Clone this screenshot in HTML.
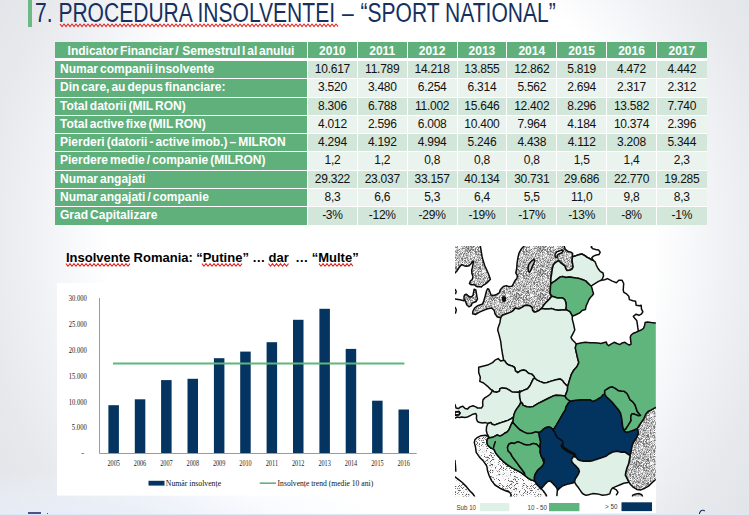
<!DOCTYPE html>
<html><head><meta charset="utf-8">
<style>
html,body{margin:0;padding:0;}
body{width:749px;height:515px;overflow:hidden;position:relative;font-family:"Liberation Sans",sans-serif;
background:
radial-gradient(ellipse 320px 45px at 60px 515px,rgba(232,239,251,.75) 0,rgba(236,242,251,.45) 55%,rgba(255,255,255,0) 100%),
radial-gradient(ellipse 100px 108px at 380px 240px,#fff 0,#fff 272%,#f7f8fa 310%,#eff1f4 345%,#e7e9ed 395%,#e1e4e8 450%,#dfe2e6 480%);}
#gbar{position:absolute;left:28px;top:0;width:4px;height:27px;background:#6db887;}
#title{position:absolute;left:35.2px;top:-2.5px;font-size:26.8px;line-height:30px;color:#17305e;white-space:nowrap;transform-origin:0 0;transform:scaleX(.785);}
.sq{}
table{position:absolute;left:55px;top:42px;border-collapse:separate;border-spacing:0;table-layout:fixed;width:651.3px;}
td{height:18.3px;box-sizing:border-box;padding:0;border-right:1.3px solid #fff;border-bottom:1.5px solid #fff;font-size:12px;line-height:14px;vertical-align:top;padding-top:1px;letter-spacing:-0.25px;text-align:center;color:#111;white-space:nowrap;overflow:hidden;}
td:last-child{border-right:none}
tr:last-child td{border-bottom:none;height:17.6px}
td.l{background:#60b07c;color:#fff;font-weight:bold;text-align:left;padding-left:5px;word-spacing:-1.3px;letter-spacing:0}
tr.h td{background:#60b07c;color:#fff;font-weight:bold;height:19px;border-bottom:3px solid #fff;font-size:12px;padding-top:2px;letter-spacing:0}
tr.h td.l{text-align:center;padding-left:0;word-spacing:-1.5px}
tr.o td{background:#d3e6da}
tr.e td{background:#eaf3ed}
tr.o td.l,tr.e td.l{background:#60b07c}
#ct{position:absolute;left:66px;top:250px;word-spacing:-0.3px;font-size:13px;font-weight:bold;color:#000;white-space:nowrap;line-height:15px}
#chart{position:absolute;left:57px;top:283px;}
#map{position:absolute;left:455px;top:246px;}
</style></head><body>
<div id="gbar"></div>
<div id="title">7. <span class="sq">PROCEDURA INSOLVENTEI</span><span style="word-spacing:1.3px"> – </span>“SPORT NATIONAL”</div>
<table>
<colgroup><col style="width:253px"><col span="8" style="width:49.85px"></colgroup>
<tr class="h"><td class="l">Indicator Financiar / &nbsp;Semestrul I al anului</td><td>2010</td><td>2011</td><td>2012</td><td>2013</td><td>2014</td><td>2015</td><td>2016</td><td>2017</td></tr>
<tr class="o"><td class="l">Numar companii insolvente</td><td>10.617</td><td>11.789</td><td>14.218</td><td>13.855</td><td>12.862</td><td>5.819</td><td>4.472</td><td>4.442</td></tr>
<tr class="e"><td class="l">Din care, au depus financiare:</td><td>3.520</td><td>3.480</td><td>6.254</td><td>6.314</td><td>5.562</td><td>2.694</td><td>2.317</td><td>2.312</td></tr>
<tr class="o"><td class="l">Total datorii (MIL RON)</td><td>8.306</td><td>6.788</td><td>11.002</td><td>15.646</td><td>12.402</td><td>8.296</td><td>13.582</td><td>7.740</td></tr>
<tr class="e"><td class="l">Total active fixe (MIL RON)</td><td>4.012</td><td>2.596</td><td>6.008</td><td>10.400</td><td>7.964</td><td>4.184</td><td>10.374</td><td>2.396</td></tr>
<tr class="o"><td class="l">Pierderi (datorii - active imob.) – MILRON</td><td>4.294</td><td>4.192</td><td>4.994</td><td>5.246</td><td>4.438</td><td>4.112</td><td>3.208</td><td>5.344</td></tr>
<tr class="e"><td class="l">Pierdere medie / companie (MILRON)</td><td>1,2</td><td>1,2</td><td>0,8</td><td>0,8</td><td>0,8</td><td>1,5</td><td>1,4</td><td>2,3</td></tr>
<tr class="o"><td class="l">Numar angajati</td><td>29.322</td><td>23.037</td><td>33.157</td><td>40.134</td><td>30.731</td><td>29.686</td><td>22.770</td><td>19.285</td></tr>
<tr class="e"><td class="l">Numar angajati / companie</td><td>8,3</td><td>6,6</td><td>5,3</td><td>6,4</td><td>5,5</td><td>11,0</td><td>9,8</td><td>8,3</td></tr>
<tr class="o"><td class="l">Grad Capitalizare</td><td>-3%</td><td>-12%</td><td>-29%</td><td>-19%</td><td>-17%</td><td>-13%</td><td>-8%</td><td>-1%</td></tr>
</table>
<div id="ct"><span class="sq">Insolvente</span> Romania: “<span class="sq">Putine</span>” … <span class="sq">dar</span> &nbsp;… “<span class="sq">Multe</span>”</div>
<svg id="sqg" width="749" height="515" style="position:absolute;left:0;top:0;pointer-events:none"><g fill="none" stroke="#e3241f" stroke-width="1.05"><path d="M60.0 24.0L62.0 26.6L64.0 24.0L66.0 26.6L68.0 24.0L70.0 26.6L72.0 24.0L74.0 26.6L76.0 24.0L78.0 26.6L80.0 24.0L82.0 26.6L84.0 24.0L86.0 26.6L88.0 24.0L90.0 26.6L92.0 24.0L94.0 26.6L96.0 24.0L98.0 26.6L100.0 24.0L102.0 26.6L104.0 24.0L106.0 26.6L108.0 24.0L110.0 26.6L112.0 24.0L114.0 26.6L116.0 24.0L118.0 26.6L120.0 24.0L122.0 26.6L124.0 24.0L126.0 26.6L128.0 24.0L130.0 26.6L132.0 24.0L134.0 26.6L136.0 24.0L138.0 26.6L140.0 24.0L142.0 26.6L144.0 24.0L146.0 26.6L148.0 24.0L150.0 26.6L152.0 24.0L154.0 26.6L156.0 24.0L158.0 26.6L160.0 24.0L162.0 26.6L164.0 24.0L166.0 26.6L168.0 24.0L170.0 26.6L172.0 24.0L174.0 26.6L176.0 24.0L178.0 26.6L180.0 24.0L182.0 26.6L184.0 24.0L186.0 26.6L188.0 24.0L190.0 26.6L192.0 24.0L194.0 26.6L196.0 24.0L198.0 26.6L200.0 24.0L202.0 26.6L204.0 24.0L206.0 26.6L208.0 24.0L210.0 26.6L212.0 24.0L214.0 26.6L216.0 24.0L218.0 26.6L220.0 24.0L222.0 26.6L224.0 24.0L226.0 26.6L228.0 24.0L230.0 26.6L232.0 24.0L234.0 26.6L236.0 24.0L238.0 26.6L240.0 24.0L242.0 26.6L244.0 24.0L246.0 26.6L248.0 24.0L250.0 26.6L252.0 24.0L254.0 26.6L256.0 24.0L258.0 26.6L260.0 24.0L262.0 26.6L264.0 24.0L266.0 26.6L268.0 24.0L270.0 26.6L272.0 24.0L274.0 26.6L276.0 24.0L278.0 26.6L280.0 24.0L282.0 26.6L284.0 24.0L286.0 26.6L288.0 24.0L290.0 26.6L292.0 24.0L294.0 26.6L296.0 24.0L298.0 26.6L300.0 24.0L302.0 26.6L304.0 24.0L306.0 26.6L308.0 24.0L310.0 26.6L312.0 24.0L314.0 26.6L316.0 24.0L318.0 26.6L320.0 24.0L322.0 26.6L324.0 24.0L326.0 26.6L328.0 24.0L330.0 26.6L332.0 24.0L334.0 26.6L336.0 24.0L338.0 26.6"/><path d="M66.0 263.6L68.0 266.2L70.0 263.6L72.0 266.2L74.0 263.6L76.0 266.2L78.0 263.6L80.0 266.2L82.0 263.6L84.0 266.2L86.0 263.6L88.0 266.2L90.0 263.6L92.0 266.2L94.0 263.6L96.0 266.2L98.0 263.6L100.0 266.2L102.0 263.6L104.0 266.2L106.0 263.6L108.0 266.2L110.0 263.6L112.0 266.2L114.0 263.6L116.0 266.2L118.0 263.6L120.0 266.2L122.0 263.6L124.0 266.2L126.0 263.6L128.0 266.2L130.0 263.6"/><path d="M202.0 263.6L204.0 266.2L206.0 263.6L208.0 266.2L210.0 263.6L212.0 266.2L214.0 263.6L216.0 266.2L218.0 263.6L220.0 266.2L222.0 263.6L224.0 266.2L226.0 263.6L228.0 266.2L230.0 263.6L232.0 266.2L234.0 263.6L236.0 266.2L238.0 263.6L240.0 266.2L242.0 263.6"/><path d="M268.5 263.6L270.5 266.2L272.5 263.6L274.5 266.2L276.5 263.6L278.5 266.2L280.5 263.6L282.5 266.2L284.5 263.6L286.5 266.2L288.5 263.6"/><path d="M319.0 263.6L321.0 266.2L323.0 263.6L325.0 266.2L327.0 263.6L329.0 266.2L331.0 263.6L333.0 266.2L335.0 263.6L337.0 266.2L339.0 263.6L341.0 266.2L343.0 263.6L345.0 266.2L347.0 263.6L349.0 266.2L351.0 263.6L353.0 266.2"/></g></svg>
<svg id="chart" width="399" height="212.6" viewBox="57 283 399 212.6">
<rect x="57" y="283" width="399" height="212.6" fill="#fff"/>
<g fill="#04345f"><rect x="108.4" y="405.2" width="10.5" height="48.1"/><rect x="134.8" y="399.3" width="10.5" height="54.0"/><rect x="161.1" y="380.1" width="10.5" height="73.2"/><rect x="187.5" y="378.8" width="10.5" height="74.5"/><rect x="213.9" y="358.2" width="10.5" height="95.1"/><rect x="240.2" y="351.6" width="10.5" height="101.7"/><rect x="266.6" y="342.2" width="10.5" height="111.1"/><rect x="293.0" y="319.8" width="10.5" height="133.5"/><rect x="319.4" y="308.8" width="10.5" height="144.5"/><rect x="345.7" y="348.9" width="10.5" height="104.4"/><rect x="372.1" y="400.7" width="10.5" height="52.6"/><rect x="398.5" y="409.5" width="10.5" height="43.8"/></g>
<path d="M99.5 298V453.5H416.7" fill="none" stroke="#9a9a9a" stroke-width="1"/>
<path d="M113 363.5H404.4" stroke="#5fb57c" stroke-width="2.2"/>
<g font-family="Liberation Serif" font-size="8.4" fill="#222" class="cx"><text x="113.7" y="465.6" text-anchor="middle" textLength="12.4" lengthAdjust="spacingAndGlyphs">2005</text><text x="140.0" y="465.6" text-anchor="middle" textLength="12.4" lengthAdjust="spacingAndGlyphs">2006</text><text x="166.4" y="465.6" text-anchor="middle" textLength="12.4" lengthAdjust="spacingAndGlyphs">2007</text><text x="192.8" y="465.6" text-anchor="middle" textLength="12.4" lengthAdjust="spacingAndGlyphs">2008</text><text x="219.1" y="465.6" text-anchor="middle" textLength="12.4" lengthAdjust="spacingAndGlyphs">2009</text><text x="245.5" y="465.6" text-anchor="middle" textLength="12.4" lengthAdjust="spacingAndGlyphs">2010</text><text x="271.9" y="465.6" text-anchor="middle" textLength="12.4" lengthAdjust="spacingAndGlyphs">2011</text><text x="298.2" y="465.6" text-anchor="middle" textLength="12.4" lengthAdjust="spacingAndGlyphs">2012</text><text x="324.6" y="465.6" text-anchor="middle" textLength="12.4" lengthAdjust="spacingAndGlyphs">2013</text><text x="351.0" y="465.6" text-anchor="middle" textLength="12.4" lengthAdjust="spacingAndGlyphs">2014</text><text x="377.4" y="465.6" text-anchor="middle" textLength="12.4" lengthAdjust="spacingAndGlyphs">2015</text><text x="403.7" y="465.6" text-anchor="middle" textLength="12.4" lengthAdjust="spacingAndGlyphs">2016</text><text x="86.8" y="430.4" text-anchor="end" textLength="15.0" lengthAdjust="spacingAndGlyphs">5.000</text><text x="86.8" y="404.6" text-anchor="end" textLength="18.1" lengthAdjust="spacingAndGlyphs">10.000</text><text x="86.8" y="378.9" text-anchor="end" textLength="18.1" lengthAdjust="spacingAndGlyphs">15.000</text><text x="86.8" y="353.1" text-anchor="end" textLength="18.1" lengthAdjust="spacingAndGlyphs">20.000</text><text x="86.8" y="327.3" text-anchor="end" textLength="18.1" lengthAdjust="spacingAndGlyphs">25.000</text><text x="86.8" y="301.5" text-anchor="end" textLength="18.1" lengthAdjust="spacingAndGlyphs">30.000</text><text x="84" y="456.5" text-anchor="end">-</text></g>
<rect x="148.5" y="480.8" width="16" height="4.8" fill="#04345f"/>
<path d="M259.7 483.2H276" stroke="#5fb57c" stroke-width="1.6"/>
<g font-family="Liberation Serif" font-size="8.9" fill="#111"><text x="165.8" y="486.1" textLength="55.3" lengthAdjust="spacingAndGlyphs">Număr insolvențe</text><text x="277.6" y="486.1" textLength="95.6" lengthAdjust="spacingAndGlyphs">Insolvențe trend (medie 10 ani)</text></g>
</svg>
<svg id="map" width="202" height="267" viewBox="455 246 202 267">
<defs><pattern id="st" width="24" height="24" patternUnits="userSpaceOnUse"><rect width="24" height="24" fill="#c2c2c2"/><rect x="0" y="0" width="1" height="1" fill="#8c8c8c"/><rect x="0" y="1" width="1" height="1" fill="#eee"/><rect x="0" y="2" width="1" height="1" fill="#777"/><rect x="0" y="3" width="1" height="1" fill="#777"/><rect x="0" y="4" width="1" height="1" fill="#777"/><rect x="0" y="5" width="1" height="1" fill="#808080"/><rect x="0" y="6" width="1" height="1" fill="#eee"/><rect x="0" y="7" width="1" height="1" fill="#777"/><rect x="0" y="8" width="1" height="1" fill="#eee"/><rect x="0" y="12" width="1" height="1" fill="#777"/><rect x="0" y="13" width="1" height="1" fill="#f4f4f4"/><rect x="0" y="14" width="1" height="1" fill="#8c8c8c"/><rect x="0" y="15" width="1" height="1" fill="#8c8c8c"/><rect x="0" y="16" width="1" height="1" fill="#e6e6e6"/><rect x="0" y="19" width="1" height="1" fill="#777"/><rect x="0" y="21" width="1" height="1" fill="#eee"/><rect x="1" y="0" width="1" height="1" fill="#fff"/><rect x="1" y="2" width="1" height="1" fill="#fff"/><rect x="1" y="3" width="1" height="1" fill="#f4f4f4"/><rect x="1" y="6" width="1" height="1" fill="#777"/><rect x="1" y="7" width="1" height="1" fill="#a2a2a2"/><rect x="1" y="10" width="1" height="1" fill="#808080"/><rect x="1" y="11" width="1" height="1" fill="#a2a2a2"/><rect x="1" y="12" width="1" height="1" fill="#999"/><rect x="1" y="13" width="1" height="1" fill="#a2a2a2"/><rect x="1" y="14" width="1" height="1" fill="#eee"/><rect x="1" y="18" width="1" height="1" fill="#6e6e6e"/><rect x="1" y="19" width="1" height="1" fill="#fff"/><rect x="1" y="21" width="1" height="1" fill="#eee"/><rect x="1" y="23" width="1" height="1" fill="#eee"/><rect x="2" y="0" width="1" height="1" fill="#6e6e6e"/><rect x="2" y="1" width="1" height="1" fill="#777"/><rect x="2" y="4" width="1" height="1" fill="#a2a2a2"/><rect x="2" y="6" width="1" height="1" fill="#fff"/><rect x="2" y="7" width="1" height="1" fill="#eee"/><rect x="2" y="8" width="1" height="1" fill="#f4f4f4"/><rect x="2" y="10" width="1" height="1" fill="#8c8c8c"/><rect x="2" y="11" width="1" height="1" fill="#fff"/><rect x="2" y="12" width="1" height="1" fill="#a2a2a2"/><rect x="2" y="13" width="1" height="1" fill="#e6e6e6"/><rect x="2" y="17" width="1" height="1" fill="#a2a2a2"/><rect x="2" y="20" width="1" height="1" fill="#f4f4f4"/><rect x="2" y="21" width="1" height="1" fill="#8c8c8c"/><rect x="2" y="22" width="1" height="1" fill="#6e6e6e"/><rect x="2" y="23" width="1" height="1" fill="#a2a2a2"/><rect x="3" y="1" width="1" height="1" fill="#999"/><rect x="3" y="2" width="1" height="1" fill="#a2a2a2"/><rect x="3" y="3" width="1" height="1" fill="#e6e6e6"/><rect x="3" y="6" width="1" height="1" fill="#eee"/><rect x="3" y="7" width="1" height="1" fill="#fff"/><rect x="3" y="8" width="1" height="1" fill="#fff"/><rect x="3" y="9" width="1" height="1" fill="#6e6e6e"/><rect x="3" y="10" width="1" height="1" fill="#f4f4f4"/><rect x="3" y="11" width="1" height="1" fill="#8c8c8c"/><rect x="3" y="12" width="1" height="1" fill="#eee"/><rect x="3" y="13" width="1" height="1" fill="#eee"/><rect x="3" y="14" width="1" height="1" fill="#777"/><rect x="3" y="15" width="1" height="1" fill="#808080"/><rect x="3" y="18" width="1" height="1" fill="#8c8c8c"/><rect x="3" y="20" width="1" height="1" fill="#999"/><rect x="3" y="23" width="1" height="1" fill="#eee"/><rect x="4" y="2" width="1" height="1" fill="#fff"/><rect x="4" y="3" width="1" height="1" fill="#8c8c8c"/><rect x="4" y="4" width="1" height="1" fill="#999"/><rect x="4" y="6" width="1" height="1" fill="#f4f4f4"/><rect x="4" y="7" width="1" height="1" fill="#f4f4f4"/><rect x="4" y="9" width="1" height="1" fill="#f4f4f4"/><rect x="4" y="13" width="1" height="1" fill="#6e6e6e"/><rect x="4" y="16" width="1" height="1" fill="#999"/><rect x="4" y="18" width="1" height="1" fill="#f4f4f4"/><rect x="4" y="19" width="1" height="1" fill="#e6e6e6"/><rect x="5" y="0" width="1" height="1" fill="#8c8c8c"/><rect x="5" y="3" width="1" height="1" fill="#777"/><rect x="5" y="4" width="1" height="1" fill="#eee"/><rect x="5" y="7" width="1" height="1" fill="#f4f4f4"/><rect x="5" y="10" width="1" height="1" fill="#e6e6e6"/><rect x="5" y="12" width="1" height="1" fill="#f4f4f4"/><rect x="5" y="13" width="1" height="1" fill="#a2a2a2"/><rect x="5" y="14" width="1" height="1" fill="#8c8c8c"/><rect x="5" y="15" width="1" height="1" fill="#eee"/><rect x="5" y="16" width="1" height="1" fill="#e6e6e6"/><rect x="5" y="18" width="1" height="1" fill="#6e6e6e"/><rect x="5" y="19" width="1" height="1" fill="#a2a2a2"/><rect x="5" y="22" width="1" height="1" fill="#f4f4f4"/><rect x="5" y="23" width="1" height="1" fill="#e6e6e6"/><rect x="6" y="0" width="1" height="1" fill="#6e6e6e"/><rect x="6" y="1" width="1" height="1" fill="#fff"/><rect x="6" y="3" width="1" height="1" fill="#8c8c8c"/><rect x="6" y="4" width="1" height="1" fill="#8c8c8c"/><rect x="6" y="5" width="1" height="1" fill="#777"/><rect x="6" y="8" width="1" height="1" fill="#777"/><rect x="6" y="11" width="1" height="1" fill="#f4f4f4"/><rect x="6" y="12" width="1" height="1" fill="#6e6e6e"/><rect x="6" y="14" width="1" height="1" fill="#f4f4f4"/><rect x="6" y="15" width="1" height="1" fill="#f4f4f4"/><rect x="6" y="17" width="1" height="1" fill="#999"/><rect x="6" y="18" width="1" height="1" fill="#777"/><rect x="6" y="19" width="1" height="1" fill="#777"/><rect x="6" y="20" width="1" height="1" fill="#777"/><rect x="6" y="21" width="1" height="1" fill="#f4f4f4"/><rect x="6" y="22" width="1" height="1" fill="#6e6e6e"/><rect x="6" y="23" width="1" height="1" fill="#fff"/><rect x="7" y="2" width="1" height="1" fill="#f4f4f4"/><rect x="7" y="3" width="1" height="1" fill="#eee"/><rect x="7" y="8" width="1" height="1" fill="#8c8c8c"/><rect x="7" y="9" width="1" height="1" fill="#eee"/><rect x="7" y="10" width="1" height="1" fill="#e6e6e6"/><rect x="7" y="12" width="1" height="1" fill="#fff"/><rect x="7" y="14" width="1" height="1" fill="#777"/><rect x="7" y="15" width="1" height="1" fill="#8c8c8c"/><rect x="7" y="16" width="1" height="1" fill="#808080"/><rect x="7" y="17" width="1" height="1" fill="#eee"/><rect x="7" y="20" width="1" height="1" fill="#f4f4f4"/><rect x="7" y="22" width="1" height="1" fill="#fff"/><rect x="7" y="23" width="1" height="1" fill="#f4f4f4"/><rect x="8" y="3" width="1" height="1" fill="#777"/><rect x="8" y="5" width="1" height="1" fill="#a2a2a2"/><rect x="8" y="6" width="1" height="1" fill="#808080"/><rect x="8" y="7" width="1" height="1" fill="#e6e6e6"/><rect x="8" y="8" width="1" height="1" fill="#8c8c8c"/><rect x="8" y="9" width="1" height="1" fill="#f4f4f4"/><rect x="8" y="13" width="1" height="1" fill="#6e6e6e"/><rect x="8" y="15" width="1" height="1" fill="#e6e6e6"/><rect x="8" y="18" width="1" height="1" fill="#808080"/><rect x="8" y="19" width="1" height="1" fill="#fff"/><rect x="8" y="20" width="1" height="1" fill="#6e6e6e"/><rect x="8" y="22" width="1" height="1" fill="#a2a2a2"/><rect x="9" y="0" width="1" height="1" fill="#fff"/><rect x="9" y="1" width="1" height="1" fill="#999"/><rect x="9" y="2" width="1" height="1" fill="#999"/><rect x="9" y="3" width="1" height="1" fill="#777"/><rect x="9" y="4" width="1" height="1" fill="#eee"/><rect x="9" y="5" width="1" height="1" fill="#e6e6e6"/><rect x="9" y="6" width="1" height="1" fill="#eee"/><rect x="9" y="7" width="1" height="1" fill="#8c8c8c"/><rect x="9" y="9" width="1" height="1" fill="#999"/><rect x="9" y="10" width="1" height="1" fill="#8c8c8c"/><rect x="9" y="11" width="1" height="1" fill="#8c8c8c"/><rect x="9" y="16" width="1" height="1" fill="#fff"/><rect x="9" y="18" width="1" height="1" fill="#808080"/><rect x="9" y="20" width="1" height="1" fill="#808080"/><rect x="9" y="21" width="1" height="1" fill="#808080"/><rect x="10" y="0" width="1" height="1" fill="#8c8c8c"/><rect x="10" y="1" width="1" height="1" fill="#808080"/><rect x="10" y="2" width="1" height="1" fill="#e6e6e6"/><rect x="10" y="4" width="1" height="1" fill="#e6e6e6"/><rect x="10" y="6" width="1" height="1" fill="#6e6e6e"/><rect x="10" y="7" width="1" height="1" fill="#808080"/><rect x="10" y="9" width="1" height="1" fill="#8c8c8c"/><rect x="10" y="10" width="1" height="1" fill="#999"/><rect x="10" y="12" width="1" height="1" fill="#f4f4f4"/><rect x="10" y="13" width="1" height="1" fill="#777"/><rect x="10" y="15" width="1" height="1" fill="#808080"/><rect x="10" y="17" width="1" height="1" fill="#808080"/><rect x="10" y="19" width="1" height="1" fill="#f4f4f4"/><rect x="10" y="20" width="1" height="1" fill="#f4f4f4"/><rect x="10" y="22" width="1" height="1" fill="#6e6e6e"/><rect x="10" y="23" width="1" height="1" fill="#fff"/><rect x="11" y="0" width="1" height="1" fill="#fff"/><rect x="11" y="2" width="1" height="1" fill="#8c8c8c"/><rect x="11" y="4" width="1" height="1" fill="#f4f4f4"/><rect x="11" y="5" width="1" height="1" fill="#e6e6e6"/><rect x="11" y="8" width="1" height="1" fill="#6e6e6e"/><rect x="11" y="10" width="1" height="1" fill="#8c8c8c"/><rect x="11" y="11" width="1" height="1" fill="#6e6e6e"/><rect x="11" y="15" width="1" height="1" fill="#8c8c8c"/><rect x="11" y="17" width="1" height="1" fill="#8c8c8c"/><rect x="11" y="18" width="1" height="1" fill="#a2a2a2"/><rect x="11" y="19" width="1" height="1" fill="#999"/><rect x="11" y="22" width="1" height="1" fill="#f4f4f4"/><rect x="11" y="23" width="1" height="1" fill="#999"/><rect x="12" y="0" width="1" height="1" fill="#8c8c8c"/><rect x="12" y="1" width="1" height="1" fill="#a2a2a2"/><rect x="12" y="2" width="1" height="1" fill="#999"/><rect x="12" y="3" width="1" height="1" fill="#f4f4f4"/><rect x="12" y="4" width="1" height="1" fill="#808080"/><rect x="12" y="5" width="1" height="1" fill="#808080"/><rect x="12" y="6" width="1" height="1" fill="#777"/><rect x="12" y="7" width="1" height="1" fill="#808080"/><rect x="12" y="8" width="1" height="1" fill="#6e6e6e"/><rect x="12" y="9" width="1" height="1" fill="#777"/><rect x="12" y="12" width="1" height="1" fill="#6e6e6e"/><rect x="12" y="17" width="1" height="1" fill="#e6e6e6"/><rect x="12" y="20" width="1" height="1" fill="#6e6e6e"/><rect x="13" y="1" width="1" height="1" fill="#777"/><rect x="13" y="5" width="1" height="1" fill="#6e6e6e"/><rect x="13" y="10" width="1" height="1" fill="#808080"/><rect x="13" y="11" width="1" height="1" fill="#6e6e6e"/><rect x="13" y="12" width="1" height="1" fill="#eee"/><rect x="13" y="13" width="1" height="1" fill="#fff"/><rect x="13" y="14" width="1" height="1" fill="#eee"/><rect x="13" y="17" width="1" height="1" fill="#eee"/><rect x="13" y="18" width="1" height="1" fill="#eee"/><rect x="13" y="20" width="1" height="1" fill="#eee"/><rect x="13" y="22" width="1" height="1" fill="#6e6e6e"/><rect x="13" y="23" width="1" height="1" fill="#eee"/><rect x="14" y="1" width="1" height="1" fill="#8c8c8c"/><rect x="14" y="2" width="1" height="1" fill="#6e6e6e"/><rect x="14" y="4" width="1" height="1" fill="#fff"/><rect x="14" y="5" width="1" height="1" fill="#6e6e6e"/><rect x="14" y="6" width="1" height="1" fill="#808080"/><rect x="14" y="9" width="1" height="1" fill="#8c8c8c"/><rect x="14" y="10" width="1" height="1" fill="#6e6e6e"/><rect x="14" y="12" width="1" height="1" fill="#777"/><rect x="14" y="13" width="1" height="1" fill="#a2a2a2"/><rect x="14" y="14" width="1" height="1" fill="#999"/><rect x="14" y="16" width="1" height="1" fill="#8c8c8c"/><rect x="14" y="18" width="1" height="1" fill="#777"/><rect x="14" y="19" width="1" height="1" fill="#a2a2a2"/><rect x="14" y="20" width="1" height="1" fill="#eee"/><rect x="14" y="22" width="1" height="1" fill="#e6e6e6"/><rect x="15" y="1" width="1" height="1" fill="#a2a2a2"/><rect x="15" y="2" width="1" height="1" fill="#777"/><rect x="15" y="4" width="1" height="1" fill="#e6e6e6"/><rect x="15" y="5" width="1" height="1" fill="#f4f4f4"/><rect x="15" y="6" width="1" height="1" fill="#808080"/><rect x="15" y="7" width="1" height="1" fill="#777"/><rect x="15" y="8" width="1" height="1" fill="#999"/><rect x="15" y="9" width="1" height="1" fill="#6e6e6e"/><rect x="15" y="10" width="1" height="1" fill="#eee"/><rect x="15" y="12" width="1" height="1" fill="#a2a2a2"/><rect x="15" y="13" width="1" height="1" fill="#f4f4f4"/><rect x="15" y="14" width="1" height="1" fill="#a2a2a2"/><rect x="15" y="16" width="1" height="1" fill="#f4f4f4"/><rect x="15" y="17" width="1" height="1" fill="#fff"/><rect x="15" y="18" width="1" height="1" fill="#999"/><rect x="15" y="19" width="1" height="1" fill="#999"/><rect x="15" y="21" width="1" height="1" fill="#8c8c8c"/><rect x="16" y="0" width="1" height="1" fill="#999"/><rect x="16" y="1" width="1" height="1" fill="#a2a2a2"/><rect x="16" y="4" width="1" height="1" fill="#fff"/><rect x="16" y="7" width="1" height="1" fill="#808080"/><rect x="16" y="9" width="1" height="1" fill="#8c8c8c"/><rect x="16" y="10" width="1" height="1" fill="#999"/><rect x="16" y="11" width="1" height="1" fill="#e6e6e6"/><rect x="16" y="12" width="1" height="1" fill="#999"/><rect x="16" y="14" width="1" height="1" fill="#eee"/><rect x="16" y="19" width="1" height="1" fill="#eee"/><rect x="16" y="20" width="1" height="1" fill="#6e6e6e"/><rect x="16" y="21" width="1" height="1" fill="#f4f4f4"/><rect x="16" y="23" width="1" height="1" fill="#808080"/><rect x="17" y="1" width="1" height="1" fill="#f4f4f4"/><rect x="17" y="2" width="1" height="1" fill="#e6e6e6"/><rect x="17" y="3" width="1" height="1" fill="#999"/><rect x="17" y="6" width="1" height="1" fill="#6e6e6e"/><rect x="17" y="7" width="1" height="1" fill="#a2a2a2"/><rect x="17" y="8" width="1" height="1" fill="#fff"/><rect x="17" y="9" width="1" height="1" fill="#6e6e6e"/><rect x="17" y="10" width="1" height="1" fill="#8c8c8c"/><rect x="17" y="11" width="1" height="1" fill="#fff"/><rect x="17" y="12" width="1" height="1" fill="#fff"/><rect x="17" y="15" width="1" height="1" fill="#f4f4f4"/><rect x="17" y="16" width="1" height="1" fill="#f4f4f4"/><rect x="17" y="17" width="1" height="1" fill="#999"/><rect x="17" y="18" width="1" height="1" fill="#e6e6e6"/><rect x="17" y="19" width="1" height="1" fill="#999"/><rect x="17" y="21" width="1" height="1" fill="#808080"/><rect x="17" y="23" width="1" height="1" fill="#fff"/><rect x="18" y="1" width="1" height="1" fill="#999"/><rect x="18" y="2" width="1" height="1" fill="#808080"/><rect x="18" y="3" width="1" height="1" fill="#e6e6e6"/><rect x="18" y="4" width="1" height="1" fill="#777"/><rect x="18" y="5" width="1" height="1" fill="#f4f4f4"/><rect x="18" y="6" width="1" height="1" fill="#8c8c8c"/><rect x="18" y="7" width="1" height="1" fill="#fff"/><rect x="18" y="8" width="1" height="1" fill="#e6e6e6"/><rect x="18" y="11" width="1" height="1" fill="#808080"/><rect x="18" y="12" width="1" height="1" fill="#fff"/><rect x="18" y="14" width="1" height="1" fill="#eee"/><rect x="18" y="15" width="1" height="1" fill="#fff"/><rect x="18" y="17" width="1" height="1" fill="#808080"/><rect x="18" y="18" width="1" height="1" fill="#8c8c8c"/><rect x="18" y="19" width="1" height="1" fill="#eee"/><rect x="19" y="0" width="1" height="1" fill="#eee"/><rect x="19" y="1" width="1" height="1" fill="#8c8c8c"/><rect x="19" y="2" width="1" height="1" fill="#808080"/><rect x="19" y="4" width="1" height="1" fill="#8c8c8c"/><rect x="19" y="6" width="1" height="1" fill="#fff"/><rect x="19" y="8" width="1" height="1" fill="#808080"/><rect x="19" y="9" width="1" height="1" fill="#777"/><rect x="19" y="10" width="1" height="1" fill="#999"/><rect x="19" y="11" width="1" height="1" fill="#777"/><rect x="19" y="12" width="1" height="1" fill="#777"/><rect x="19" y="13" width="1" height="1" fill="#a2a2a2"/><rect x="19" y="14" width="1" height="1" fill="#999"/><rect x="19" y="17" width="1" height="1" fill="#f4f4f4"/><rect x="19" y="18" width="1" height="1" fill="#eee"/><rect x="19" y="21" width="1" height="1" fill="#808080"/><rect x="19" y="22" width="1" height="1" fill="#6e6e6e"/><rect x="20" y="0" width="1" height="1" fill="#8c8c8c"/><rect x="20" y="3" width="1" height="1" fill="#808080"/><rect x="20" y="6" width="1" height="1" fill="#fff"/><rect x="20" y="7" width="1" height="1" fill="#999"/><rect x="20" y="9" width="1" height="1" fill="#f4f4f4"/><rect x="20" y="10" width="1" height="1" fill="#f4f4f4"/><rect x="20" y="11" width="1" height="1" fill="#8c8c8c"/><rect x="20" y="12" width="1" height="1" fill="#8c8c8c"/><rect x="20" y="13" width="1" height="1" fill="#999"/><rect x="20" y="14" width="1" height="1" fill="#777"/><rect x="20" y="15" width="1" height="1" fill="#f4f4f4"/><rect x="20" y="17" width="1" height="1" fill="#eee"/><rect x="20" y="19" width="1" height="1" fill="#a2a2a2"/><rect x="20" y="20" width="1" height="1" fill="#808080"/><rect x="20" y="22" width="1" height="1" fill="#808080"/><rect x="21" y="0" width="1" height="1" fill="#a2a2a2"/><rect x="21" y="6" width="1" height="1" fill="#8c8c8c"/><rect x="21" y="8" width="1" height="1" fill="#fff"/><rect x="21" y="9" width="1" height="1" fill="#6e6e6e"/><rect x="21" y="13" width="1" height="1" fill="#eee"/><rect x="21" y="14" width="1" height="1" fill="#999"/><rect x="21" y="15" width="1" height="1" fill="#a2a2a2"/><rect x="21" y="17" width="1" height="1" fill="#8c8c8c"/><rect x="21" y="18" width="1" height="1" fill="#e6e6e6"/><rect x="21" y="20" width="1" height="1" fill="#eee"/><rect x="21" y="22" width="1" height="1" fill="#777"/><rect x="22" y="0" width="1" height="1" fill="#999"/><rect x="22" y="2" width="1" height="1" fill="#fff"/><rect x="22" y="3" width="1" height="1" fill="#6e6e6e"/><rect x="22" y="5" width="1" height="1" fill="#808080"/><rect x="22" y="6" width="1" height="1" fill="#eee"/><rect x="22" y="7" width="1" height="1" fill="#6e6e6e"/><rect x="22" y="8" width="1" height="1" fill="#777"/><rect x="22" y="9" width="1" height="1" fill="#999"/><rect x="22" y="10" width="1" height="1" fill="#777"/><rect x="22" y="11" width="1" height="1" fill="#6e6e6e"/><rect x="22" y="13" width="1" height="1" fill="#999"/><rect x="22" y="14" width="1" height="1" fill="#6e6e6e"/><rect x="22" y="19" width="1" height="1" fill="#8c8c8c"/><rect x="22" y="20" width="1" height="1" fill="#6e6e6e"/><rect x="22" y="23" width="1" height="1" fill="#e6e6e6"/><rect x="23" y="2" width="1" height="1" fill="#a2a2a2"/><rect x="23" y="3" width="1" height="1" fill="#6e6e6e"/><rect x="23" y="4" width="1" height="1" fill="#6e6e6e"/><rect x="23" y="7" width="1" height="1" fill="#999"/><rect x="23" y="8" width="1" height="1" fill="#eee"/><rect x="23" y="9" width="1" height="1" fill="#fff"/><rect x="23" y="11" width="1" height="1" fill="#808080"/><rect x="23" y="13" width="1" height="1" fill="#e6e6e6"/><rect x="23" y="14" width="1" height="1" fill="#a2a2a2"/><rect x="23" y="17" width="1" height="1" fill="#808080"/><rect x="23" y="18" width="1" height="1" fill="#a2a2a2"/><rect x="23" y="19" width="1" height="1" fill="#fff"/><rect x="23" y="20" width="1" height="1" fill="#8c8c8c"/><rect x="23" y="21" width="1" height="1" fill="#f4f4f4"/></pattern><pattern id="st2" width="24" height="24" patternUnits="userSpaceOnUse"><rect width="24" height="24" fill="#cccccc"/><rect x="0" y="1" width="1" height="1" fill="#999"/><rect x="0" y="2" width="1" height="1" fill="#8a8a8a"/><rect x="0" y="3" width="1" height="1" fill="#999"/><rect x="0" y="5" width="1" height="1" fill="#888"/><rect x="0" y="6" width="1" height="1" fill="#888"/><rect x="0" y="7" width="1" height="1" fill="#8a8a8a"/><rect x="0" y="8" width="1" height="1" fill="#777"/><rect x="0" y="9" width="1" height="1" fill="#fff"/><rect x="0" y="10" width="1" height="1" fill="#fff"/><rect x="0" y="12" width="1" height="1" fill="#666"/><rect x="0" y="14" width="1" height="1" fill="#666"/><rect x="0" y="16" width="1" height="1" fill="#666"/><rect x="0" y="18" width="1" height="1" fill="#999"/><rect x="0" y="19" width="1" height="1" fill="#777"/><rect x="0" y="20" width="1" height="1" fill="#8a8a8a"/><rect x="0" y="21" width="1" height="1" fill="#777"/><rect x="0" y="22" width="1" height="1" fill="#fff"/><rect x="0" y="23" width="1" height="1" fill="#f6f6f6"/><rect x="1" y="2" width="1" height="1" fill="#8a8a8a"/><rect x="1" y="4" width="1" height="1" fill="#fff"/><rect x="1" y="5" width="1" height="1" fill="#fff"/><rect x="1" y="6" width="1" height="1" fill="#999"/><rect x="1" y="7" width="1" height="1" fill="#888"/><rect x="1" y="10" width="1" height="1" fill="#f6f6f6"/><rect x="1" y="11" width="1" height="1" fill="#999"/><rect x="1" y="12" width="1" height="1" fill="#777"/><rect x="1" y="15" width="1" height="1" fill="#777"/><rect x="1" y="18" width="1" height="1" fill="#8a8a8a"/><rect x="1" y="19" width="1" height="1" fill="#888"/><rect x="1" y="20" width="1" height="1" fill="#f6f6f6"/><rect x="1" y="21" width="1" height="1" fill="#f6f6f6"/><rect x="1" y="23" width="1" height="1" fill="#fff"/><rect x="2" y="0" width="1" height="1" fill="#8a8a8a"/><rect x="2" y="2" width="1" height="1" fill="#fff"/><rect x="2" y="5" width="1" height="1" fill="#fff"/><rect x="2" y="6" width="1" height="1" fill="#f6f6f6"/><rect x="2" y="7" width="1" height="1" fill="#777"/><rect x="2" y="8" width="1" height="1" fill="#fff"/><rect x="2" y="9" width="1" height="1" fill="#fff"/><rect x="2" y="10" width="1" height="1" fill="#f6f6f6"/><rect x="2" y="11" width="1" height="1" fill="#fff"/><rect x="2" y="12" width="1" height="1" fill="#777"/><rect x="2" y="16" width="1" height="1" fill="#8a8a8a"/><rect x="2" y="19" width="1" height="1" fill="#999"/><rect x="2" y="20" width="1" height="1" fill="#8a8a8a"/><rect x="2" y="21" width="1" height="1" fill="#777"/><rect x="2" y="22" width="1" height="1" fill="#666"/><rect x="3" y="2" width="1" height="1" fill="#777"/><rect x="3" y="4" width="1" height="1" fill="#fff"/><rect x="3" y="7" width="1" height="1" fill="#8a8a8a"/><rect x="3" y="14" width="1" height="1" fill="#666"/><rect x="3" y="15" width="1" height="1" fill="#888"/><rect x="3" y="16" width="1" height="1" fill="#8a8a8a"/><rect x="3" y="17" width="1" height="1" fill="#999"/><rect x="3" y="18" width="1" height="1" fill="#888"/><rect x="3" y="21" width="1" height="1" fill="#8a8a8a"/><rect x="4" y="1" width="1" height="1" fill="#f6f6f6"/><rect x="4" y="5" width="1" height="1" fill="#666"/><rect x="4" y="6" width="1" height="1" fill="#888"/><rect x="4" y="7" width="1" height="1" fill="#f0f0f0"/><rect x="4" y="8" width="1" height="1" fill="#f0f0f0"/><rect x="4" y="9" width="1" height="1" fill="#fff"/><rect x="4" y="10" width="1" height="1" fill="#666"/><rect x="4" y="11" width="1" height="1" fill="#f6f6f6"/><rect x="4" y="14" width="1" height="1" fill="#fff"/><rect x="4" y="16" width="1" height="1" fill="#fff"/><rect x="4" y="17" width="1" height="1" fill="#666"/><rect x="4" y="18" width="1" height="1" fill="#f6f6f6"/><rect x="4" y="19" width="1" height="1" fill="#f0f0f0"/><rect x="4" y="20" width="1" height="1" fill="#888"/><rect x="4" y="21" width="1" height="1" fill="#999"/><rect x="4" y="23" width="1" height="1" fill="#fff"/><rect x="5" y="4" width="1" height="1" fill="#777"/><rect x="5" y="8" width="1" height="1" fill="#666"/><rect x="5" y="9" width="1" height="1" fill="#888"/><rect x="5" y="12" width="1" height="1" fill="#999"/><rect x="5" y="14" width="1" height="1" fill="#999"/><rect x="5" y="16" width="1" height="1" fill="#666"/><rect x="5" y="17" width="1" height="1" fill="#8a8a8a"/><rect x="5" y="19" width="1" height="1" fill="#f0f0f0"/><rect x="5" y="20" width="1" height="1" fill="#8a8a8a"/><rect x="5" y="21" width="1" height="1" fill="#999"/><rect x="5" y="22" width="1" height="1" fill="#888"/><rect x="5" y="23" width="1" height="1" fill="#f0f0f0"/><rect x="6" y="3" width="1" height="1" fill="#999"/><rect x="6" y="4" width="1" height="1" fill="#8a8a8a"/><rect x="6" y="5" width="1" height="1" fill="#999"/><rect x="6" y="7" width="1" height="1" fill="#f0f0f0"/><rect x="6" y="10" width="1" height="1" fill="#8a8a8a"/><rect x="6" y="12" width="1" height="1" fill="#f6f6f6"/><rect x="6" y="13" width="1" height="1" fill="#999"/><rect x="6" y="15" width="1" height="1" fill="#fff"/><rect x="6" y="16" width="1" height="1" fill="#fff"/><rect x="6" y="19" width="1" height="1" fill="#8a8a8a"/><rect x="6" y="20" width="1" height="1" fill="#8a8a8a"/><rect x="7" y="1" width="1" height="1" fill="#999"/><rect x="7" y="3" width="1" height="1" fill="#f0f0f0"/><rect x="7" y="4" width="1" height="1" fill="#fff"/><rect x="7" y="5" width="1" height="1" fill="#888"/><rect x="7" y="7" width="1" height="1" fill="#777"/><rect x="7" y="8" width="1" height="1" fill="#999"/><rect x="7" y="9" width="1" height="1" fill="#8a8a8a"/><rect x="7" y="10" width="1" height="1" fill="#fff"/><rect x="7" y="11" width="1" height="1" fill="#f6f6f6"/><rect x="7" y="13" width="1" height="1" fill="#8a8a8a"/><rect x="7" y="15" width="1" height="1" fill="#777"/><rect x="7" y="17" width="1" height="1" fill="#888"/><rect x="7" y="18" width="1" height="1" fill="#fff"/><rect x="7" y="22" width="1" height="1" fill="#f6f6f6"/><rect x="8" y="0" width="1" height="1" fill="#8a8a8a"/><rect x="8" y="5" width="1" height="1" fill="#f6f6f6"/><rect x="8" y="6" width="1" height="1" fill="#777"/><rect x="8" y="7" width="1" height="1" fill="#8a8a8a"/><rect x="8" y="8" width="1" height="1" fill="#888"/><rect x="8" y="9" width="1" height="1" fill="#777"/><rect x="8" y="11" width="1" height="1" fill="#8a8a8a"/><rect x="8" y="14" width="1" height="1" fill="#888"/><rect x="8" y="15" width="1" height="1" fill="#f0f0f0"/><rect x="8" y="16" width="1" height="1" fill="#f0f0f0"/><rect x="8" y="17" width="1" height="1" fill="#f0f0f0"/><rect x="8" y="18" width="1" height="1" fill="#999"/><rect x="8" y="19" width="1" height="1" fill="#777"/><rect x="8" y="22" width="1" height="1" fill="#f0f0f0"/><rect x="8" y="23" width="1" height="1" fill="#666"/><rect x="9" y="1" width="1" height="1" fill="#f0f0f0"/><rect x="9" y="3" width="1" height="1" fill="#777"/><rect x="9" y="4" width="1" height="1" fill="#777"/><rect x="9" y="5" width="1" height="1" fill="#999"/><rect x="9" y="7" width="1" height="1" fill="#8a8a8a"/><rect x="9" y="12" width="1" height="1" fill="#888"/><rect x="9" y="13" width="1" height="1" fill="#8a8a8a"/><rect x="9" y="14" width="1" height="1" fill="#999"/><rect x="9" y="17" width="1" height="1" fill="#888"/><rect x="9" y="19" width="1" height="1" fill="#f6f6f6"/><rect x="9" y="20" width="1" height="1" fill="#fff"/><rect x="9" y="21" width="1" height="1" fill="#f0f0f0"/><rect x="10" y="1" width="1" height="1" fill="#f6f6f6"/><rect x="10" y="5" width="1" height="1" fill="#f0f0f0"/><rect x="10" y="6" width="1" height="1" fill="#999"/><rect x="10" y="8" width="1" height="1" fill="#f0f0f0"/><rect x="10" y="9" width="1" height="1" fill="#888"/><rect x="10" y="10" width="1" height="1" fill="#777"/><rect x="10" y="11" width="1" height="1" fill="#8a8a8a"/><rect x="10" y="13" width="1" height="1" fill="#fff"/><rect x="10" y="15" width="1" height="1" fill="#888"/><rect x="10" y="20" width="1" height="1" fill="#8a8a8a"/><rect x="10" y="22" width="1" height="1" fill="#8a8a8a"/><rect x="11" y="0" width="1" height="1" fill="#666"/><rect x="11" y="1" width="1" height="1" fill="#888"/><rect x="11" y="2" width="1" height="1" fill="#777"/><rect x="11" y="3" width="1" height="1" fill="#777"/><rect x="11" y="6" width="1" height="1" fill="#777"/><rect x="11" y="7" width="1" height="1" fill="#888"/><rect x="11" y="8" width="1" height="1" fill="#999"/><rect x="11" y="9" width="1" height="1" fill="#fff"/><rect x="11" y="10" width="1" height="1" fill="#f6f6f6"/><rect x="11" y="11" width="1" height="1" fill="#999"/><rect x="11" y="15" width="1" height="1" fill="#f6f6f6"/><rect x="11" y="17" width="1" height="1" fill="#666"/><rect x="11" y="18" width="1" height="1" fill="#8a8a8a"/><rect x="11" y="20" width="1" height="1" fill="#f0f0f0"/><rect x="11" y="21" width="1" height="1" fill="#8a8a8a"/><rect x="11" y="22" width="1" height="1" fill="#777"/><rect x="12" y="0" width="1" height="1" fill="#666"/><rect x="12" y="1" width="1" height="1" fill="#888"/><rect x="12" y="2" width="1" height="1" fill="#777"/><rect x="12" y="3" width="1" height="1" fill="#666"/><rect x="12" y="4" width="1" height="1" fill="#888"/><rect x="12" y="8" width="1" height="1" fill="#f0f0f0"/><rect x="12" y="10" width="1" height="1" fill="#888"/><rect x="12" y="12" width="1" height="1" fill="#888"/><rect x="12" y="13" width="1" height="1" fill="#777"/><rect x="12" y="14" width="1" height="1" fill="#f0f0f0"/><rect x="12" y="16" width="1" height="1" fill="#999"/><rect x="12" y="17" width="1" height="1" fill="#f6f6f6"/><rect x="12" y="21" width="1" height="1" fill="#f0f0f0"/><rect x="12" y="22" width="1" height="1" fill="#888"/><rect x="12" y="23" width="1" height="1" fill="#666"/><rect x="13" y="1" width="1" height="1" fill="#f6f6f6"/><rect x="13" y="5" width="1" height="1" fill="#8a8a8a"/><rect x="13" y="9" width="1" height="1" fill="#f6f6f6"/><rect x="13" y="10" width="1" height="1" fill="#f6f6f6"/><rect x="13" y="13" width="1" height="1" fill="#666"/><rect x="13" y="15" width="1" height="1" fill="#888"/><rect x="13" y="16" width="1" height="1" fill="#666"/><rect x="13" y="19" width="1" height="1" fill="#f6f6f6"/><rect x="13" y="20" width="1" height="1" fill="#8a8a8a"/><rect x="13" y="21" width="1" height="1" fill="#888"/><rect x="14" y="1" width="1" height="1" fill="#fff"/><rect x="14" y="2" width="1" height="1" fill="#fff"/><rect x="14" y="3" width="1" height="1" fill="#777"/><rect x="14" y="4" width="1" height="1" fill="#777"/><rect x="14" y="5" width="1" height="1" fill="#888"/><rect x="14" y="9" width="1" height="1" fill="#fff"/><rect x="14" y="10" width="1" height="1" fill="#777"/><rect x="14" y="11" width="1" height="1" fill="#666"/><rect x="14" y="12" width="1" height="1" fill="#fff"/><rect x="14" y="13" width="1" height="1" fill="#f6f6f6"/><rect x="14" y="15" width="1" height="1" fill="#f0f0f0"/><rect x="14" y="16" width="1" height="1" fill="#777"/><rect x="14" y="17" width="1" height="1" fill="#8a8a8a"/><rect x="14" y="19" width="1" height="1" fill="#888"/><rect x="14" y="21" width="1" height="1" fill="#f0f0f0"/><rect x="15" y="6" width="1" height="1" fill="#888"/><rect x="15" y="8" width="1" height="1" fill="#f6f6f6"/><rect x="15" y="9" width="1" height="1" fill="#777"/><rect x="15" y="11" width="1" height="1" fill="#666"/><rect x="15" y="14" width="1" height="1" fill="#666"/><rect x="15" y="15" width="1" height="1" fill="#fff"/><rect x="15" y="17" width="1" height="1" fill="#f0f0f0"/><rect x="15" y="21" width="1" height="1" fill="#fff"/><rect x="15" y="22" width="1" height="1" fill="#f6f6f6"/><rect x="16" y="0" width="1" height="1" fill="#999"/><rect x="16" y="2" width="1" height="1" fill="#888"/><rect x="16" y="3" width="1" height="1" fill="#fff"/><rect x="16" y="5" width="1" height="1" fill="#fff"/><rect x="16" y="7" width="1" height="1" fill="#f0f0f0"/><rect x="16" y="9" width="1" height="1" fill="#f6f6f6"/><rect x="16" y="10" width="1" height="1" fill="#f6f6f6"/><rect x="16" y="11" width="1" height="1" fill="#888"/><rect x="16" y="12" width="1" height="1" fill="#fff"/><rect x="16" y="16" width="1" height="1" fill="#666"/><rect x="16" y="17" width="1" height="1" fill="#fff"/><rect x="16" y="18" width="1" height="1" fill="#666"/><rect x="16" y="22" width="1" height="1" fill="#999"/><rect x="17" y="1" width="1" height="1" fill="#fff"/><rect x="17" y="4" width="1" height="1" fill="#fff"/><rect x="17" y="5" width="1" height="1" fill="#777"/><rect x="17" y="8" width="1" height="1" fill="#f0f0f0"/><rect x="17" y="11" width="1" height="1" fill="#666"/><rect x="17" y="12" width="1" height="1" fill="#f6f6f6"/><rect x="17" y="16" width="1" height="1" fill="#fff"/><rect x="17" y="17" width="1" height="1" fill="#666"/><rect x="17" y="21" width="1" height="1" fill="#f0f0f0"/><rect x="17" y="23" width="1" height="1" fill="#f0f0f0"/><rect x="18" y="0" width="1" height="1" fill="#666"/><rect x="18" y="1" width="1" height="1" fill="#f0f0f0"/><rect x="18" y="4" width="1" height="1" fill="#f6f6f6"/><rect x="18" y="6" width="1" height="1" fill="#8a8a8a"/><rect x="18" y="9" width="1" height="1" fill="#999"/><rect x="18" y="11" width="1" height="1" fill="#777"/><rect x="18" y="12" width="1" height="1" fill="#777"/><rect x="18" y="14" width="1" height="1" fill="#777"/><rect x="18" y="17" width="1" height="1" fill="#666"/><rect x="18" y="18" width="1" height="1" fill="#fff"/><rect x="18" y="19" width="1" height="1" fill="#666"/><rect x="18" y="21" width="1" height="1" fill="#8a8a8a"/><rect x="18" y="23" width="1" height="1" fill="#8a8a8a"/><rect x="19" y="2" width="1" height="1" fill="#888"/><rect x="19" y="3" width="1" height="1" fill="#f0f0f0"/><rect x="19" y="6" width="1" height="1" fill="#777"/><rect x="19" y="7" width="1" height="1" fill="#888"/><rect x="19" y="9" width="1" height="1" fill="#f0f0f0"/><rect x="19" y="10" width="1" height="1" fill="#666"/><rect x="19" y="13" width="1" height="1" fill="#888"/><rect x="19" y="14" width="1" height="1" fill="#f0f0f0"/><rect x="19" y="15" width="1" height="1" fill="#999"/><rect x="19" y="16" width="1" height="1" fill="#f0f0f0"/><rect x="19" y="17" width="1" height="1" fill="#f6f6f6"/><rect x="19" y="19" width="1" height="1" fill="#f6f6f6"/><rect x="19" y="22" width="1" height="1" fill="#999"/><rect x="20" y="0" width="1" height="1" fill="#8a8a8a"/><rect x="20" y="1" width="1" height="1" fill="#999"/><rect x="20" y="3" width="1" height="1" fill="#666"/><rect x="20" y="4" width="1" height="1" fill="#fff"/><rect x="20" y="5" width="1" height="1" fill="#666"/><rect x="20" y="7" width="1" height="1" fill="#f0f0f0"/><rect x="20" y="8" width="1" height="1" fill="#f6f6f6"/><rect x="20" y="12" width="1" height="1" fill="#999"/><rect x="20" y="13" width="1" height="1" fill="#f0f0f0"/><rect x="20" y="14" width="1" height="1" fill="#999"/><rect x="20" y="15" width="1" height="1" fill="#666"/><rect x="20" y="16" width="1" height="1" fill="#f0f0f0"/><rect x="20" y="19" width="1" height="1" fill="#fff"/><rect x="20" y="22" width="1" height="1" fill="#f6f6f6"/><rect x="21" y="0" width="1" height="1" fill="#777"/><rect x="21" y="2" width="1" height="1" fill="#8a8a8a"/><rect x="21" y="5" width="1" height="1" fill="#999"/><rect x="21" y="6" width="1" height="1" fill="#777"/><rect x="21" y="7" width="1" height="1" fill="#666"/><rect x="21" y="18" width="1" height="1" fill="#666"/><rect x="21" y="20" width="1" height="1" fill="#888"/><rect x="21" y="22" width="1" height="1" fill="#fff"/><rect x="22" y="1" width="1" height="1" fill="#fff"/><rect x="22" y="4" width="1" height="1" fill="#999"/><rect x="22" y="5" width="1" height="1" fill="#777"/><rect x="22" y="6" width="1" height="1" fill="#666"/><rect x="22" y="10" width="1" height="1" fill="#f0f0f0"/><rect x="22" y="11" width="1" height="1" fill="#777"/><rect x="22" y="13" width="1" height="1" fill="#f0f0f0"/><rect x="22" y="15" width="1" height="1" fill="#fff"/><rect x="22" y="20" width="1" height="1" fill="#666"/><rect x="22" y="22" width="1" height="1" fill="#666"/><rect x="22" y="23" width="1" height="1" fill="#888"/><rect x="23" y="1" width="1" height="1" fill="#fff"/><rect x="23" y="3" width="1" height="1" fill="#777"/><rect x="23" y="4" width="1" height="1" fill="#777"/><rect x="23" y="5" width="1" height="1" fill="#777"/><rect x="23" y="6" width="1" height="1" fill="#8a8a8a"/><rect x="23" y="7" width="1" height="1" fill="#888"/><rect x="23" y="9" width="1" height="1" fill="#f0f0f0"/><rect x="23" y="13" width="1" height="1" fill="#8a8a8a"/><rect x="23" y="15" width="1" height="1" fill="#f6f6f6"/><rect x="23" y="17" width="1" height="1" fill="#777"/><rect x="23" y="18" width="1" height="1" fill="#777"/><rect x="23" y="22" width="1" height="1" fill="#f6f6f6"/></pattern><pattern id="st3" width="24" height="24" patternUnits="userSpaceOnUse"><rect width="24" height="24" fill="#fbfbfb"/><rect x="0" y="0" width="1" height="1" fill="#ccc"/><rect x="0" y="6" width="1" height="1" fill="#ddd"/><rect x="0" y="17" width="1" height="1" fill="#999"/><rect x="1" y="8" width="1" height="1" fill="#888"/><rect x="1" y="9" width="1" height="1" fill="#ddd"/><rect x="1" y="13" width="1" height="1" fill="#777"/><rect x="1" y="23" width="1" height="1" fill="#999"/><rect x="2" y="6" width="1" height="1" fill="#666"/><rect x="2" y="8" width="1" height="1" fill="#ccc"/><rect x="2" y="10" width="1" height="1" fill="#666"/><rect x="2" y="12" width="1" height="1" fill="#888"/><rect x="2" y="14" width="1" height="1" fill="#e4e4e4"/><rect x="2" y="16" width="1" height="1" fill="#e4e4e4"/><rect x="2" y="19" width="1" height="1" fill="#ddd"/><rect x="2" y="20" width="1" height="1" fill="#ddd"/><rect x="3" y="3" width="1" height="1" fill="#ccc"/><rect x="3" y="5" width="1" height="1" fill="#666"/><rect x="3" y="7" width="1" height="1" fill="#e4e4e4"/><rect x="3" y="8" width="1" height="1" fill="#888"/><rect x="3" y="10" width="1" height="1" fill="#555"/><rect x="3" y="11" width="1" height="1" fill="#e4e4e4"/><rect x="3" y="14" width="1" height="1" fill="#ccc"/><rect x="3" y="20" width="1" height="1" fill="#ddd"/><rect x="4" y="0" width="1" height="1" fill="#555"/><rect x="4" y="6" width="1" height="1" fill="#999"/><rect x="4" y="10" width="1" height="1" fill="#888"/><rect x="4" y="17" width="1" height="1" fill="#ddd"/><rect x="4" y="19" width="1" height="1" fill="#ddd"/><rect x="4" y="22" width="1" height="1" fill="#999"/><rect x="5" y="1" width="1" height="1" fill="#999"/><rect x="5" y="5" width="1" height="1" fill="#777"/><rect x="5" y="7" width="1" height="1" fill="#777"/><rect x="5" y="12" width="1" height="1" fill="#888"/><rect x="6" y="0" width="1" height="1" fill="#ddd"/><rect x="6" y="1" width="1" height="1" fill="#999"/><rect x="6" y="4" width="1" height="1" fill="#666"/><rect x="6" y="8" width="1" height="1" fill="#555"/><rect x="6" y="14" width="1" height="1" fill="#777"/><rect x="6" y="16" width="1" height="1" fill="#ccc"/><rect x="6" y="18" width="1" height="1" fill="#777"/><rect x="6" y="19" width="1" height="1" fill="#ccc"/><rect x="6" y="20" width="1" height="1" fill="#ddd"/><rect x="7" y="0" width="1" height="1" fill="#ccc"/><rect x="7" y="1" width="1" height="1" fill="#666"/><rect x="7" y="3" width="1" height="1" fill="#999"/><rect x="7" y="4" width="1" height="1" fill="#777"/><rect x="7" y="7" width="1" height="1" fill="#777"/><rect x="7" y="10" width="1" height="1" fill="#ddd"/><rect x="7" y="12" width="1" height="1" fill="#888"/><rect x="7" y="14" width="1" height="1" fill="#e4e4e4"/><rect x="7" y="16" width="1" height="1" fill="#555"/><rect x="8" y="1" width="1" height="1" fill="#666"/><rect x="8" y="2" width="1" height="1" fill="#e4e4e4"/><rect x="8" y="3" width="1" height="1" fill="#ddd"/><rect x="8" y="5" width="1" height="1" fill="#ddd"/><rect x="8" y="6" width="1" height="1" fill="#ddd"/><rect x="8" y="11" width="1" height="1" fill="#ddd"/><rect x="8" y="16" width="1" height="1" fill="#ddd"/><rect x="9" y="2" width="1" height="1" fill="#666"/><rect x="9" y="6" width="1" height="1" fill="#ddd"/><rect x="9" y="9" width="1" height="1" fill="#888"/><rect x="9" y="15" width="1" height="1" fill="#888"/><rect x="9" y="23" width="1" height="1" fill="#555"/><rect x="10" y="5" width="1" height="1" fill="#555"/><rect x="10" y="6" width="1" height="1" fill="#ddd"/><rect x="10" y="7" width="1" height="1" fill="#ccc"/><rect x="10" y="8" width="1" height="1" fill="#ddd"/><rect x="10" y="9" width="1" height="1" fill="#777"/><rect x="10" y="10" width="1" height="1" fill="#e4e4e4"/><rect x="10" y="13" width="1" height="1" fill="#ccc"/><rect x="10" y="14" width="1" height="1" fill="#555"/><rect x="10" y="16" width="1" height="1" fill="#555"/><rect x="10" y="20" width="1" height="1" fill="#555"/><rect x="10" y="22" width="1" height="1" fill="#999"/><rect x="10" y="23" width="1" height="1" fill="#ddd"/><rect x="11" y="0" width="1" height="1" fill="#999"/><rect x="11" y="4" width="1" height="1" fill="#666"/><rect x="11" y="8" width="1" height="1" fill="#555"/><rect x="11" y="11" width="1" height="1" fill="#ccc"/><rect x="11" y="20" width="1" height="1" fill="#888"/><rect x="11" y="21" width="1" height="1" fill="#ccc"/><rect x="11" y="23" width="1" height="1" fill="#555"/><rect x="12" y="1" width="1" height="1" fill="#666"/><rect x="12" y="2" width="1" height="1" fill="#e4e4e4"/><rect x="12" y="3" width="1" height="1" fill="#777"/><rect x="12" y="8" width="1" height="1" fill="#555"/><rect x="12" y="9" width="1" height="1" fill="#999"/><rect x="12" y="10" width="1" height="1" fill="#e4e4e4"/><rect x="12" y="14" width="1" height="1" fill="#555"/><rect x="12" y="15" width="1" height="1" fill="#e4e4e4"/><rect x="12" y="16" width="1" height="1" fill="#777"/><rect x="12" y="21" width="1" height="1" fill="#999"/><rect x="13" y="1" width="1" height="1" fill="#999"/><rect x="13" y="3" width="1" height="1" fill="#555"/><rect x="13" y="14" width="1" height="1" fill="#ccc"/><rect x="13" y="15" width="1" height="1" fill="#e4e4e4"/><rect x="13" y="21" width="1" height="1" fill="#888"/><rect x="13" y="22" width="1" height="1" fill="#e4e4e4"/><rect x="14" y="3" width="1" height="1" fill="#ddd"/><rect x="14" y="6" width="1" height="1" fill="#ddd"/><rect x="14" y="9" width="1" height="1" fill="#ddd"/><rect x="14" y="23" width="1" height="1" fill="#777"/><rect x="15" y="11" width="1" height="1" fill="#555"/><rect x="15" y="12" width="1" height="1" fill="#999"/><rect x="16" y="10" width="1" height="1" fill="#ccc"/><rect x="16" y="14" width="1" height="1" fill="#ccc"/><rect x="16" y="19" width="1" height="1" fill="#ccc"/><rect x="16" y="22" width="1" height="1" fill="#888"/><rect x="17" y="15" width="1" height="1" fill="#888"/><rect x="17" y="19" width="1" height="1" fill="#ddd"/><rect x="18" y="4" width="1" height="1" fill="#ccc"/><rect x="18" y="6" width="1" height="1" fill="#888"/><rect x="18" y="8" width="1" height="1" fill="#888"/><rect x="18" y="14" width="1" height="1" fill="#ccc"/><rect x="18" y="16" width="1" height="1" fill="#ddd"/><rect x="18" y="18" width="1" height="1" fill="#999"/><rect x="18" y="23" width="1" height="1" fill="#666"/><rect x="19" y="0" width="1" height="1" fill="#555"/><rect x="19" y="3" width="1" height="1" fill="#888"/><rect x="19" y="5" width="1" height="1" fill="#555"/><rect x="19" y="7" width="1" height="1" fill="#ccc"/><rect x="19" y="13" width="1" height="1" fill="#777"/><rect x="19" y="15" width="1" height="1" fill="#777"/><rect x="19" y="18" width="1" height="1" fill="#555"/><rect x="19" y="19" width="1" height="1" fill="#e4e4e4"/><rect x="20" y="3" width="1" height="1" fill="#777"/><rect x="20" y="5" width="1" height="1" fill="#ccc"/><rect x="20" y="9" width="1" height="1" fill="#777"/><rect x="20" y="12" width="1" height="1" fill="#666"/><rect x="20" y="17" width="1" height="1" fill="#ddd"/><rect x="20" y="18" width="1" height="1" fill="#e4e4e4"/><rect x="21" y="4" width="1" height="1" fill="#ccc"/><rect x="21" y="10" width="1" height="1" fill="#777"/><rect x="21" y="11" width="1" height="1" fill="#777"/><rect x="21" y="13" width="1" height="1" fill="#ccc"/><rect x="22" y="5" width="1" height="1" fill="#777"/><rect x="22" y="6" width="1" height="1" fill="#ddd"/><rect x="22" y="7" width="1" height="1" fill="#888"/><rect x="22" y="13" width="1" height="1" fill="#ccc"/><rect x="22" y="18" width="1" height="1" fill="#ccc"/><rect x="22" y="20" width="1" height="1" fill="#ccc"/><rect x="23" y="6" width="1" height="1" fill="#555"/><rect x="23" y="8" width="1" height="1" fill="#888"/><rect x="23" y="11" width="1" height="1" fill="#999"/><rect x="23" y="12" width="1" height="1" fill="#555"/><rect x="23" y="14" width="1" height="1" fill="#777"/><rect x="23" y="16" width="1" height="1" fill="#ddd"/><rect x="23" y="18" width="1" height="1" fill="#999"/><rect x="23" y="22" width="1" height="1" fill="#e4e4e4"/></pattern><clipPath id="mc"><rect x="455" y="246" width="200.8" height="250.5"/></clipPath></defs>
<rect x="455" y="246" width="200.9" height="267.7" fill="#fff"/>
<g clip-path="url(#mc)" stroke="#0c0c0c" stroke-width="1.5" stroke-linejoin="round" stroke-linecap="round">
<path d="M524.2 246L521.4 248.8L519.1 252.8L518 257.3L517.1 262.9L516.7 268.5L515.8 273L517.4 275.8L516.9 278.6L515.2 280.3L513.5 283.7L511.8 286.3L509 286.7L506.2 285.6L503.4 286.5L501.1 288.8L500 290.5L499.5 292.7L496.6 294.4L493.8 295.5L491 295L489.9 292.1L488.8 289.3L487.6 288.8L486.5 291L485.6 294.4L484.8 297.8L483.7 301.1L482.6 304L477.8 305.6L474.6 308L472.9 311.3L472.6 313.7L475.4 314.5L479.5 312.1L483.6 310.4L487.6 308.8L491.7 308L494.2 310.4L495 313.7L497.4 317L500.7 317.8L502.3 315.3L505.1 314.2L508.4 313.1L511.3 311.9L513.5 310.3L515.2 308L516.9 308.6L519.1 308.9L521.9 307.4L524.2 305.8L527 305.2L529.8 305.8L532.1 307.4L532.6 310.3L533.8 311.9L536 311.9L538.3 310.8L540 309.7L541.6 308.6L543.3 305.8L545.6 302.9L547.8 300.7L550.1 298.4L551.8 296.2L550.1 293.3L550.4 288.8L550.7 284.3L551 277.5L551.8 273L552.4 268.5L553.5 264.6L555.8 262.3L558.6 260.6L560.8 262.9L563.1 264.6L565 266.3L565.7 268.5L567 270.5L569.8 270.2L572.1 269.1L573.2 266.8L572.6 264L572.1 260.6L572.4 256.7L572.6 253.3L570.9 252.2L568.1 251.6L565.3 249.4L564.2 246L564.2 243L524.2 243Z" fill="url(#st)"/>
<path d="M452 243L480.3 243L480.3 246L481.1 250.5L482 256.1L483.1 260.6L484.8 265.7L487.1 270.8L488.8 274.7L490.4 279.2L488.8 280.9L487.1 282.6L484.8 284.3L482.6 285.6L481.4 287.1L479.8 286.5L477.5 286.7L475.8 286L474.4 284.3L473.6 284.8L471.3 284.8L469.4 283.7L470.2 281.4L472.4 279.2L473 276.4L471.9 273.6L471.7 270.2L472.4 267.4L473 264.6L473.6 261.2L472.4 261.8L470.8 264L469.1 265.7L466.3 266.3L464 265.7L461.8 264.6L460.1 266.3L458.4 268.5L456.7 271.3L455 273L452 273Z" fill="url(#st)"/>
<path d="M464.6 295L466.3 294.2L467.9 295.5L469.6 296.9L471.9 296.6L473 295.3L473.6 292.1L474.1 289.3L475.8 289.9L476.4 293.3L476.9 296.6L477.5 298.9L476.2 301.5L474.3 302.3L472.1 303.1L471.3 305.6L468.9 306.7L466.7 304.7L465.6 301.5L464 299L464 296.6Z" fill="url(#st)"/>
<path d="M637.3 428.4L639.5 425L641.8 421.6L644 418.3L645.7 414.3L648 411.5L651.3 409.8L655.3 407.6L659 407.5L659 476L655.9 479.3L652.3 482.5L649 485.8L644.9 488.2L640.8 489.9L636.8 489.4L633.5 487.4L630.2 484.2L628.6 481.7L627.8 482.5L628.6 481.7L627 478.4L625.3 475.2L625.8 471.9L627 467.8L628.6 463.8L629.4 459.7L630.2 455.6L631.1 450.7L631.9 445.8L633.5 441.7L635.9 438.5L637.6 435.2L638.2 432.9L637.8 430.6L637.3 428.4Z" fill="url(#st)"/>
<path d="M510.5 496.4L511.3 494.8L509.7 492.3L505.6 490.7L499.9 488.2L495 485L491.7 480.9L489.3 476L487.6 471.1L486.8 466.2L483.6 461.3L479.5 457.2L476.2 452.3L475.4 446.6L474.3 442.6L474.9 439.8L477 437.7L481.1 435.7L485.2 435.2L487.6 435.6L488.8 437L489.9 437.8L487.6 438.5L486.8 441.7L487.6 445L490.1 447.4L492.2 448.6L493.8 449.1L495.8 453.2L499.1 457.2L503.1 461.3L507.2 464.6L512.1 467.8L517 470.3L521.1 472.7L525.2 475.7L528.4 478.4L531.3 480L534.6 480.7L536.9 484.5L540.3 487.8L543.6 491.2L546.4 495.1L546.4 500L510.5 500Z" fill="url(#st3)"/>
<path d="M452 476L455 476.8L458.3 479.3L462.3 482.5L466.4 486.6L469.7 490.7L472.9 493.9L474.6 496.4L475 500L452 500Z" fill="url(#st3)"/>
<path d="M632.7 495.1L635.9 493.9L639.2 493.6L641.7 494.8L642.5 496.4L642 500L632 500Z" fill="url(#st)"/>
<path d="M563.1 250.3L562.3 252.2L560.8 253.3L558.6 254.1L557.1 255.6L557.4 257L556 257.7L555 256.1L555.2 253.7L556.7 251.9L559.1 251L561.4 250.1Z" fill="#fff"/>
<path d="M533.8 259.5L534.9 260.6L533.8 263.4L532.1 266.8L530.9 270.2L529.5 272.4L528.4 271.3L528.1 267.9L528.7 264.6L530.4 262.3L532.1 260.6Z" fill="#c4c4c4" stroke-width="1.5"/>
<ellipse cx="504" cy="299" rx="1.4" ry="2.2" fill="#111"/>
<path d="M558.6 260.6L555.8 262.3L553.5 264.6L552.4 268.5L551.8 273L551 277.5L550.7 284.3L552.4 282.6L555.2 280.9L558 278.6L560.3 276.9L562.5 276.6L565.9 277.5L569.3 276.9L572.6 277.5L576 278.1L579.4 278.6L582.8 279.8L585.6 280.9L587.8 283.1L589.5 284.8L591.2 286L592.9 284.8L595.7 283.1L598.5 281.4L601.3 280.3L602.5 278.6L603.6 275.8L603 273L600.2 271.3L598 268.5L596.3 265.1L595.1 261.8L592.9 260.1L591.2 259.5L589.5 258.4L587.3 257.3L585 255.6L582.2 254.1L579.4 254.4L576 255.6L572.4 256.7L572.1 260.6L572.6 264L573.2 266.8L572.1 269.1L569.8 270.2L567 270.5L565.7 268.5L565 266.3L563.1 264.6L560.8 262.9L558.6 260.6Z" fill="#dff1e6"/>
<path d="M550.7 284.3L550.4 288.8L550.1 293.3L551.8 296.2L554.6 297L557.4 298.1L560.2 297.7L562.5 297.9L564.7 299.6L565.8 302.4L566.2 305.8L565.8 308.6L565.3 309.7L567.5 310.3L570 311.9L572.3 316.2L576.4 314.5L579.7 312.9L582.1 310.4L585.4 309.6L586.2 305.6L587.8 302.3L589 299.5L590.6 297.2L592.3 295.5L593.5 293.8L592.7 291L592 288.2L591.2 286L589.5 284.8L587.8 283.1L585.6 280.9L582.8 279.8L579.4 278.6L576 278.1L572.6 277.5L569.3 276.9L565.9 277.5L562.5 276.6L560.3 276.9L558 278.6L555.2 280.9L552.4 282.6L550.7 284.3Z" fill="#60b57c"/>
<path d="M541.6 308.6L543.3 305.8L545.6 302.9L547.8 300.7L550.1 298.4L551.8 296.2L554.6 297L557.4 298.1L560.2 297.7L562.5 297.9L564.7 299.6L565.8 302.4L566.2 305.8L565.8 308.6L565.3 309.7L561.9 310L558.5 310.3L555.1 309.7L551.8 308.6L548.4 308.9L545 309.1L541.6 308.6Z" fill="#dff1e6"/>
<path d="M500.7 317.8L502.3 315.3L505.1 314.2L508.4 313.1L511.3 311.9L513.5 310.3L515.2 308L516.9 308.6L519.1 308.9L521.9 307.4L524.2 305.8L527 305.2L529.8 305.8L532.1 307.4L532.6 310.3L533.8 311.9L536 311.9L538.3 310.8L540 309.7L541.6 308.6L545 309.1L548.4 308.9L551.8 308.6L555.1 309.7L558.5 310.3L561.9 310L565.3 309.7L567.5 310.3L570 311.9L572.3 316.2L572.3 319.4L573.6 324.3L574.8 330L573.1 333.3L571 337.3L572.3 339.8L574.8 342.2L576.4 343.9L575.3 347.9L576.4 352.8L577.5 357.7L578.8 362.6L576.9 366.7L573.9 370L571.5 374.1L569.9 378.9L568.7 383L567.7 386.3L566.6 385.5L564.2 383L562.5 380.6L560.1 378.9L556 379.8L550.4 381.4L547.2 382.5L543.9 383L539.8 381.4L536.6 379.8L534.6 378.1L534.1 376.5L531.7 374.1L528.4 373.2L526 370.8L523.5 370L520.3 370.8L517.8 372.7L515.4 370.8L514.6 367.5L512.1 365.9L508.8 365.1L506.4 363.4L504.8 361L503.6 360.2L502.6 354.5L501.5 347.9L500.7 341.4L499.1 334.9L497.7 330L498.2 327.6L499.9 322.7L500.7 317.8Z" fill="#dff1e6"/>
<path d="M503.6 360.2L500.7 361L498.2 358.6L495 360.2L492.5 362.6L487.6 365.1L482.7 366.2L478.7 367.2L478.7 372.4L480.3 377.3L479.8 381.4L483.6 383L487.6 386.3L490.9 389.6L492.4 390.3L493.8 391.7L496.6 392.3L499.5 391.1L499.9 388.7L502.3 387.9L506.4 388.4L509.7 390.4L512.1 392L517.8 392.3L520.3 391.7L523.5 390.4L527.6 388.7L530.1 385.5L531.7 382.2L533.3 378.9L534.6 378.1L534.1 376.5L531.7 374.1L528.4 373.2L526 370.8L523.5 370L520.3 370.8L517.8 372.7L515.4 370.8L514.6 367.5L512.1 365.9L508.8 365.1L506.4 363.4L504.8 361L503.6 360.2Z" fill="#dff1e6"/>
<path d="M534.6 378.1L533.3 378.9L531.7 382.2L530.1 385.5L527.6 388.7L523.5 390.4L520.3 391.7L519.7 391.1L519.4 394.5L519.7 397.9L520.8 402.4L522.5 403.5L522.7 405.1L526.8 406.7L530.1 407L533.3 406.4L538.2 403.4L543.1 401L548 398.5L552.9 396.1L556 395.3L560.9 395.6L565 396.1L565.8 394.4L567.4 390.4L567.7 386.3L566.6 385.5L564.2 383L562.5 380.6L560.1 378.9L556 379.8L550.4 381.4L547.2 382.5L543.9 383L539.8 381.4L536.6 379.8L534.6 378.1Z" fill="#dff1e6"/>
<path d="M492.4 390.3L491.6 392.3L489.9 394.5L487.6 396.2L484.8 397.9L483.1 399.6L482.6 402.4L482.9 405.8L481.4 408L477.5 408L475.8 406.9L473 405.8L469.6 406.9L467.4 409.1L465.1 408.6L462.9 406.3L460.6 406.9L458.4 408.6L456.1 408L455 404.6L452 404.6L452 418.1L455 418.1L457.3 417L459.5 417.6L461.8 417L464.6 417.6L467.4 417L470.8 415.3L473 414.2L475.8 413.6L476.6 415.3L476.4 418.7L477.5 421.5L479.8 422.6L482.6 422.9L485.4 422.6L487.9 423.4L491 422.6L492.1 424.3L495 424.9L497.8 423.8L501.1 422.6L504.5 421.5L507.9 420.4L511.3 418.7L513.5 417L514.1 414.2L515.2 411.4L516.9 408.6L519.1 405.8L520.8 402.4L519.7 397.9L519.4 394.5L519.7 391.1L520.3 391.7L517.8 392.3L512.1 392L509.7 390.4L506.4 388.4L502.3 387.9L499.9 388.7L499.5 391.1L496.6 392.3L493.8 391.7L492.4 390.3Z" fill="#dff1e6"/>
<path d="M520.8 402.4L519.1 405.8L516.9 408.6L515.2 411.4L514.1 414.2L513.5 417L513 420L512.6 422.3L516.2 426.2L519.4 429.5L523.5 431.9L527.6 433.6L531.7 433.3L535.8 431.9L539 432.8L538.9 432.5L540.6 431.9L542.9 429.7L545.1 428L547.9 426.9L550.8 427.4L553 429.7L554.1 428.6L556.4 425.2L558.6 421.3L560.9 417.3L563.1 413.4L565.4 410L565.8 407.5L568.2 403.4L570.7 401L569.1 400.5L566.6 398.5L565 396.1L560.9 395.6L556 395.3L552.9 396.1L548 398.5L543.1 401L538.2 403.4L533.3 406.4L530.1 407L526.8 406.7L522.7 405.1L522.5 403.5L520.8 402.4Z" fill="#60b57c"/>
<path d="M487.9 423.4L486.5 427.1L486.3 430.5L487.1 433.9L488.8 436.7L489.9 437.8L492.7 437.3L495 436.1L497.2 435L500 436.1L502.3 435L504.5 433.3L506.8 432.2L508.8 430L510.1 427.1L511.3 424.3L512.4 422.1L512.6 422.3L513 420L513.5 417L511.3 418.7L507.9 420.4L504.5 421.5L501.1 422.6L497.8 423.8L495 424.9L492.1 424.3L491 422.6L487.9 423.4Z" fill="#dff1e6"/>
<path d="M489.9 437.8L487.6 438.5L486.8 441.7L487.6 445L490.1 447.4L492.2 448.6L493.8 449.1L495.8 453.2L499.1 457.2L503.1 461.3L507.2 464.6L512.1 467.8L517 470.3L521.1 472.7L525.2 475.7L524.3 472.7L521.9 469.5L519.4 466.2L517 462.9L514.6 459.7L512.1 456.4L510.5 453.2L508 450.7L507.5 447.4L508.8 444.2L511.3 443L514.6 443.4L517.8 441.7L520.3 442.6L523.5 444.2L526.8 445L530.1 444.7L533.3 443.4L536.6 444.2L540.4 448.3L540.1 445.4L540.6 441.5L539.5 437L538.9 432.5L539 432.8L535.8 431.9L531.7 433.3L527.6 433.6L523.5 431.9L519.4 429.5L516.2 426.2L512.6 422.3L512.4 422.1L511.3 424.3L510.1 427.1L508.8 430L506.8 432.2L504.5 433.3L502.3 435L500 436.1L497.2 435L495 436.1L492.7 437.3L489.9 437.8Z" fill="#60b57c"/>
<path d="M540.4 448.3L536.6 444.2L533.3 443.4L530.1 444.7L526.8 445L523.5 444.2L520.3 442.6L517.8 441.7L514.6 443.4L511.3 443L508.8 444.2L507.5 447.4L508 450.7L510.5 453.2L512.1 456.4L514.6 459.7L517 462.9L519.4 466.2L521.9 469.5L524.3 472.7L525.2 475.7L528.4 478.4L531.3 480L534.6 480.7L534.4 477.1L535.2 474.3L536.9 471.5L538.6 469.3L540.8 467.6L543.1 465.3L544.2 461.9L543.9 458.6L544 462.9L542.9 459.5L541.2 456.1L540.1 452.2L540.4 448.3Z" fill="#60b57c"/>
<path d="M553 429.7L550.8 427.4L547.9 426.9L545.1 428L542.9 429.7L540.6 431.9L538.9 432.5L539.5 437L540.6 441.5L540.1 445.4L540.4 448.3L540.1 452.2L541.2 456.1L542.9 459.5L544 462.9L543.9 458.6L544.2 461.9L543.1 465.3L540.8 467.6L538.6 469.3L536.9 471.5L535.2 474.3L534.4 477.1L534.6 480.7L536.3 483.3L538.6 486.1L541.4 488.4L543.6 486.1L545.3 483.9L547.6 481.6L550.4 481.1L552.6 483.3L554.9 485.6L556.6 487.8L557.7 490.1L559.4 488.4L562.2 486.1L565 485L568.4 483.9L571.8 483.3L574.6 482.2L575.1 479.4L576.8 476.6L578.5 473.8L579.4 471.5L578.5 468.7L576.3 466.4L574 464.2L572 461.9L571.5 459.7L572.9 457.4L574 455.8L574.4 456.7L575 455.6L573.8 453.9L571 452.5L568.2 451.1L565.4 449.4L563.1 447.7L562 446L563.1 443.8L562.6 440.9L560.3 439.3L557.5 437.6L555.8 434.8L554.7 431.9L553 429.7Z" fill="#033460"/>
<path d="M570.7 401L568.2 403.4L565.8 407.5L565.4 410L563.1 413.4L560.9 417.3L558.6 421.3L556.4 425.2L554.1 428.6L553 429.7L554.7 431.9L555.8 434.8L557.5 437.6L560.3 439.3L562.6 440.9L563.1 443.8L562 446L563.1 447.7L565.4 449.4L568.2 451.1L571 452.5L573.8 453.9L575 455.6L574.4 456.7L576.1 457.3L577.8 459.5L580 460.6L583.4 461.2L586.8 460.9L590.1 461.2L593.5 460.4L596.3 459.5L605.8 456.4L609 454L613.1 451.9L617.2 451.2L621.3 452.3L624.5 451.9L627.8 454L630.2 455.6L631.1 450.7L631.9 445.8L633.5 441.7L635.9 438.5L637.6 435.2L638.2 432.9L637.8 430.6L637.3 428.4L635 429.5L632.2 430.6L628.8 431.8L626 432.3L623.8 430.1L622.6 426.1L622.1 421.6L621.5 417.1L620.4 412.6L618.1 409.3L615.3 405.9L612.5 402.5L609.7 399.7L606.9 397.4L604.6 394.1L602.9 394.6L601.3 396.9L598.4 398.6L595.6 400.3L592.8 401.4L590 399.7L586.2 399.8L580.5 399.8L575.6 400.2L570.7 401Z" fill="#033460"/>
<path d="M604.6 394.1L604.6 390.7L606.9 389L609.7 387.3L612.5 386.8L615.3 388.4L618.1 390.4L621.5 391L624.3 391.3L627.1 393.5L628.8 396.9L630 399.7L632.8 401.9L635 404.8L636.1 408.1L637.3 411.5L639.5 414.3L640.6 415.4L638.4 415.8L636.1 414.9L633.3 413.8L631.6 414.3L630.7 417.1L631.1 420.5L629.4 423.3L627.7 426.1L625.8 429L623.8 430.1L622.6 426.1L622.1 421.6L621.5 417.1L620.4 412.6L618.1 409.3L615.3 405.9L612.5 402.5L609.7 399.7L606.9 397.4L604.6 394.1Z" fill="#60b57c"/>
<path d="M574.4 456.7L576.1 457.3L577.8 459.5L580 460.6L583.4 461.2L586.8 460.9L590.1 461.2L593.5 460.4L596.3 459.5L605.8 456.4L609 454L613.1 451.9L617.2 451.2L621.3 452.3L624.5 451.9L627.8 454L630.2 455.6L629.4 459.7L628.6 463.8L627 467.8L625.8 471.9L625.3 475.2L627 478.4L628.6 481.7L627.8 482.5L623.7 483.3L619.6 485L615.6 486.6L612.3 488.2L610.7 490.7L609.8 493.9L606.6 494.8L602.5 495.3L597.6 493.9L592.7 493.6L588.6 494.8L586.2 495.3L585.3 495.1L582.5 493.5L580.8 491.2L578.5 487.8L576.3 485L574.6 482.2L575.1 479.4L576.8 476.6L578.5 473.8L579.4 471.5L578.5 468.7L576.3 466.4L574 464.2L572 461.9L571.5 459.7L572.9 457.4L574 455.8Z" fill="#dff1e6"/>
<path d="M567.7 386.3L568.7 383L569.9 378.9L571.5 374.1L573.9 370L576.9 366.7L578.8 362.6L577.5 357.7L576.4 352.8L575.3 347.9L576.4 343.9L580.5 343.1L585.4 342.2L590 342.7L593.4 342.7L597.9 342.9L600.7 343.5L603.5 342.7L606.3 342L606.9 344L608.6 345.7L611.4 343.8L614.2 342.3L617 343.5L619.8 344.6L622.1 342.9L624.9 342.3L627.1 343.8L629.4 345.1L631.1 344L630.7 340.6L630.3 337.3L631.1 335L633.3 333.3L636.1 332.2L638.4 331.1L641.2 330L643.5 328.3L644.6 325.4L645.1 322.6L647.4 322.1L651.3 322.6L655.3 322.9L659 322.7L659 407.5L655.3 407.6L651.3 409.8L648 411.5L645.7 414.3L644 418.3L641.8 421.6L639.5 425L637.3 428.4L635 429.5L632.2 430.6L628.8 431.8L626 432.3L623.8 430.1L625.8 429L627.7 426.1L629.4 423.3L631.1 420.5L630.7 417.1L631.6 414.3L633.3 413.8L636.1 414.9L638.4 415.8L640.6 415.4L639.5 414.3L637.3 411.5L636.1 408.1L635 404.8L632.8 401.9L630 399.7L628.8 396.9L627.1 393.5L624.3 391.3L621.5 391L618.1 390.4L615.3 388.4L612.5 386.8L609.7 387.3L606.9 389L604.6 390.7L604.6 394.1L602.9 394.6L601.3 396.9L598.4 398.6L595.6 400.3L592.8 401.4L590 399.7L586.2 399.8L580.5 399.8L575.6 400.2L570.7 401L569.1 400.5L566.6 398.5L565 396.1L565.8 394.4L567.4 390.4L567.7 386.3Z" fill="#60b57c"/>
<path d="M455 411.9L458.9 411.4L460.1 413.1L458.9 414.8L455 415.3Z" fill="#fff"/>
<path d="M592.9 260.1L591.8 257.8L593.5 256.1L596.3 255L599.1 254.4L600.2 252.2L598.5 249.9L595.7 249.4L592.9 248.8L591.2 247.1L591.8 246" fill="none"/>
<path d="M601.3 280.3L604.7 279.8L607.5 278.6L612.3 281.1L616.4 282.7L618.8 280.3L622.1 280.3L623.7 283.5L623.2 290L623.8 292.3L626.6 293.9L628.8 296.2L629.4 299.6L632.8 300.7L635.6 301.3L636.1 305.2L639.5 305.8L641.2 305.2L641.5 309.1L642.9 311.9L641.2 314.2L639 315.3L636.1 314.2L633.3 316.4L634.5 318.1L636.7 320.4L637.3 323.8L637.8 327.7L638.4 331.1" fill="none"/>
<path d="M572.4 256.7L576 255.6L579.4 254.4L582.2 254.1L585 255.6L587.3 257.3L589.5 258.4L591.2 259.5L592.9 260.1" fill="none"/>
<path d="M455 299L459.9 299.8L464 300.7" fill="none"/>
<path d="M455 411.9L458.9 411.4L460.1 413.1L458.9 414.8L455 415.3" fill="none"/>
<path d="M455 460.5L455.5 466.2L455.8 471.1" fill="none"/>
<path d="M557.5 489.5L557.1 492.9L556.9 495.7" fill="none"/>
<path d="M495.3 441.7L494.2 445L493.5 447.8" fill="none"/>
<path d="M613.1 488.2L616.4 489.9L618 492.3L616.4 494.8" fill="none"/>
<path d="M455.3 289.5L456.2 291.5L455.6 293.5" fill="none"/>
<path d="M455.3 307.5L456.3 310L455.5 313" fill="none"/>
<path d="M562 445.8L563.4 447.7L565.4 449.4L568.2 451.1L571 452.5L573.8 453.9L575 455.6" fill="none" stroke-width="3"/>
</g>
<g font-family="Liberation Sans" font-size="7" fill="#3a3a3a">
<text x="456.5" y="509.8" textLength="19.5" lengthAdjust="spacingAndGlyphs">Sub 10</text><rect x="480" y="503" width="29.3" height="8.2" fill="#dff1e6"/>
<text x="527.5" y="509.8" textLength="19.5" lengthAdjust="spacingAndGlyphs">10 - 50</text><rect x="549" y="503" width="30.4" height="8.2" fill="#60b57c"/>
<text x="605" y="509" textLength="12.5" lengthAdjust="spacingAndGlyphs">&gt; 50</text><rect x="621.5" y="502.3" width="30.5" height="8.8" fill="#033460"/>
</g></svg>
<div style="position:absolute;left:28px;top:511.8px;width:13.2px;height:2px;background:#4b5488"></div>
<div style="position:absolute;left:47px;top:512.6px;width:1px;height:1px;background:#555"></div>
<svg width="10" height="7" viewBox="698 508 10 7" style="position:absolute;left:698px;top:508px"><path d="M699.4 514.6C699.4 511.6 701 510.2 702.8 510.2C703.6 510.2 704.3 510.5 704.8 511" fill="none" stroke="#17305e" stroke-width="1.1"/></svg>
<div style="position:absolute;left:0;top:513.7px;width:749px;height:1.3px;background:#dce8f8"></div>
</body></html>
